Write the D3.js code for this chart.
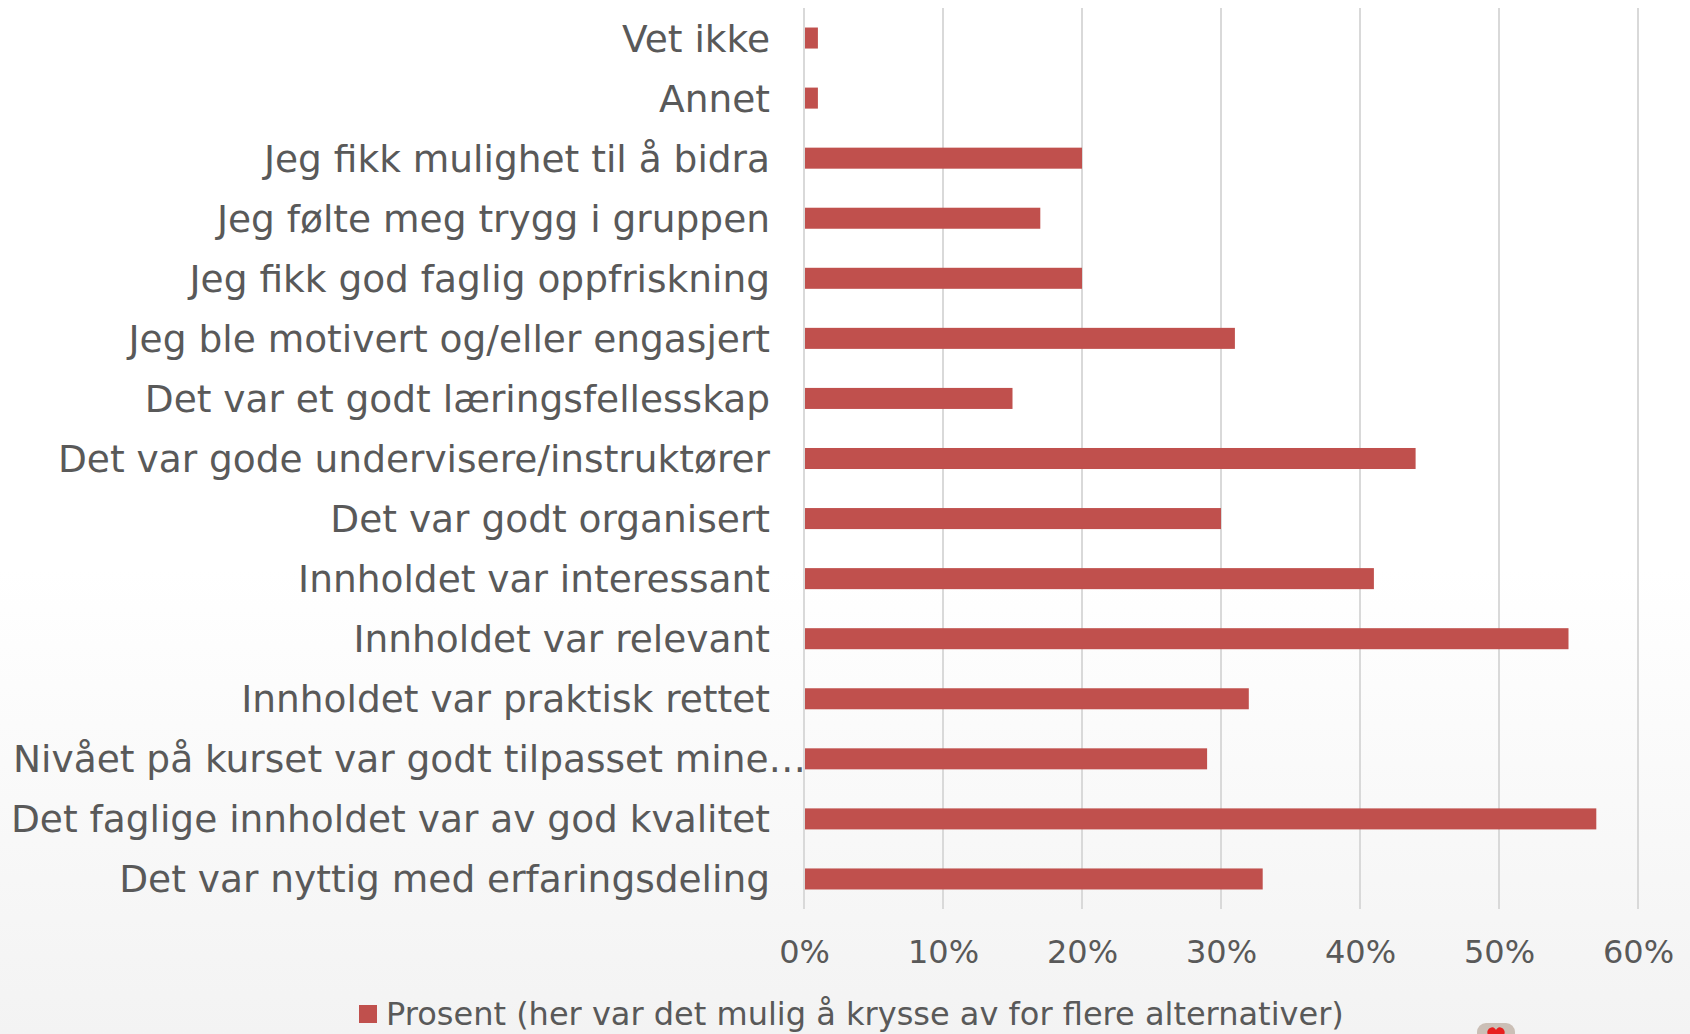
<!DOCTYPE html>
<html>
<head>
<meta charset="utf-8">
<script src="https://cdn.jsdelivr.net/npm/d3@7"></script>
<style>
  html, body { margin: 0; padding: 0; background: #fff; }
  svg { display: block; }
</style>
</head>
<body>
<svg id="chart" width="1690" height="1034"></svg>
<script>
// data (top bar first)
const categories = [
  "Vet ikke",
  "Annet",
  "Jeg fikk mulighet til å bidra",
  "Jeg følte meg trygg i gruppen",
  "Jeg fikk god faglig oppfriskning",
  "Jeg ble motivert og/eller engasjert",
  "Det var et godt læringsfellesskap",
  "Det var gode undervisere/instruktører",
  "Det var godt organisert",
  "Innholdet var interessant",
  "Innholdet var relevant",
  "Innholdet var praktisk rettet",
  "Nivået på kurset var godt tilpasset mine…",
  "Det faglige innholdet var av god kvalitet",
  "Det var nyttig med erfaringsdeling"
];
const values = [1, 1, 20, 17, 20, 31, 15, 44, 30, 41, 55, 32, 29, 57, 33];
const ticks = [0, 10, 20, 30, 40, 50, 60];
const seriesName = "Prosent (her var det mulig å krysse av for flere alternativer)";

const svg = d3.select("#chart");
const width = +svg.attr("width");
const height = +svg.attr("height");

const barColor = "#c0504d";
const textColor = "#595959";
const gridColor = "#d9d9d9";

// background
const defs = svg.append("defs");
const grad = defs.append("linearGradient")
  .attr("id", "bg")
  .attr("x1", 0).attr("y1", 0).attr("x2", 0).attr("y2", 1);
grad.append("stop").attr("offset", "0%").attr("stop-color", "#ffffff");
grad.append("stop").attr("offset", "55%").attr("stop-color", "#ffffff");
grad.append("stop").attr("offset", "100%").attr("stop-color", "#f3f3f3");
svg.append("rect").attr("width", width).attr("height", height).attr("fill", "url(#bg)");

const plot = { left: 804, right: 1638, top: 8, bottom: 909 };

const x = d3.scaleLinear().domain([0, 60]).range([plot.left, plot.right]);
const y = d3.scaleBand()
  .domain(categories)
  .range([plot.top, plot.bottom])
  .paddingInner(0.65)
  .paddingOuter(0.325);

// gridlines
svg.append("g")
  .attr("class", "grid")
  .selectAll("line")
  .data(ticks)
  .enter()
  .append("line")
  .attr("x1", (d) => x(d))
  .attr("x2", (d) => x(d))
  .attr("y1", plot.top)
  .attr("y2", plot.bottom)
  .attr("stroke", gridColor)
  .attr("stroke-width", 2);

// bars
svg.append("g")
  .attr("class", "bars")
  .selectAll("rect")
  .data(categories)
  .enter()
  .append("rect")
  .attr("x", x(0) + 1)
  .attr("y", (d) => y(d))
  .attr("width", (d, i) => x(values[i]) - x(0) - 1)
  .attr("height", y.bandwidth())
  .attr("fill", barColor);

// category labels (truncated ones start at the left edge, like Excel does)
svg.append("g")
  .attr("class", "labels")
  .selectAll("text")
  .data(categories)
  .enter()
  .append("text")
  .attr("x", (d) => (d.endsWith("…") ? 13 : plot.left - 34))
  .attr("y", (d) => y(d) + y.bandwidth() / 2)
  .attr("dy", "0.36em")
  .attr("text-anchor", (d) => (d.endsWith("…") ? "start" : "end"))
  .attr("font-family", "DejaVu Sans, Verdana, sans-serif")
  .attr("font-size", 37.5)
  .attr("fill", textColor)
  .text((d) => d);

// x axis tick labels
const xAxis = d3.axisBottom(x)
  .tickValues(ticks)
  .tickFormat((d) => d + "%")
  .tickSize(0)
  .tickPadding(0);

const axisG = svg.append("g")
  .attr("transform", `translate(0, 963)`)
  .call(xAxis);
axisG.select(".domain").remove();
axisG.selectAll("text")
  .attr("dy", 0)
  .attr("font-family", "DejaVu Sans, Verdana, sans-serif")
  .attr("font-size", 32)
  .attr("fill", textColor);

// legend
const legend = svg.append("g").attr("class", "legend");
legend.append("rect")
  .attr("x", 359).attr("y", 1005)
  .attr("width", 18).attr("height", 18)
  .attr("fill", barColor);
legend.append("text")
  .attr("x", 386).attr("y", 1025)
  .attr("font-family", "DejaVu Sans, Verdana, sans-serif")
  .attr("font-size", 32)
  .attr("fill", textColor)
  .text(seriesName);

// little icon peeking in at the bottom
const icon = svg.append("g").attr("transform", "translate(1477, 1023)");
icon.append("rect")
  .attr("width", 38).attr("height", 24).attr("rx", 9)
  .attr("fill", "#cbbfb6");
icon.append("path")
  .attr("d", "M19 22 C 10 14, 8 8, 13 5 C 16 3, 18 5, 19 7 C 20 5, 22 3, 25 5 C 30 8, 28 14, 19 22 Z")
  .attr("fill", "#e8201f");
</script>
</body>
</html>
